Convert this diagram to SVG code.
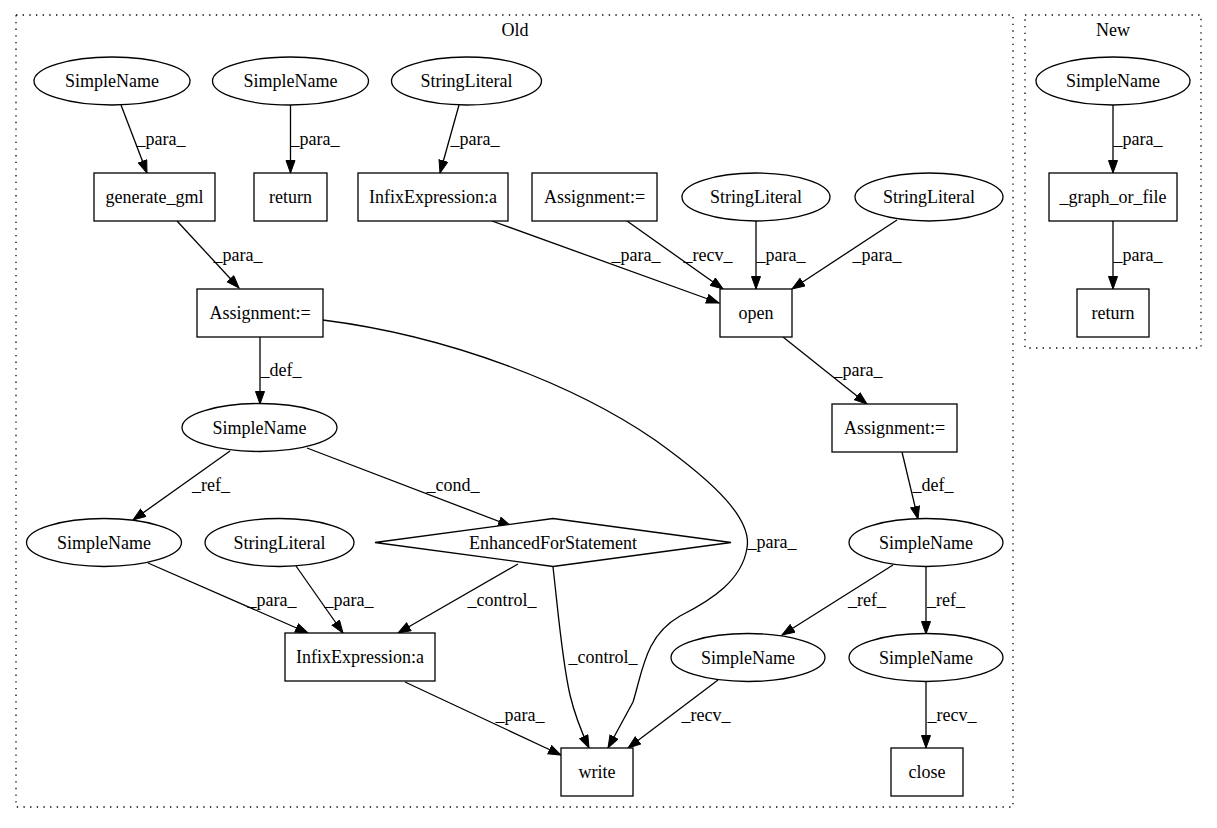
<svg xmlns="http://www.w3.org/2000/svg" width="1217" height="828" viewBox="0 0 1217 828" font-family="'Liberation Serif','Times New Roman',serif">
<style>
text{font-family:"Liberation Serif","Times New Roman",serif;font-size:18px;fill:#000;text-anchor:middle}
.n{fill:#fff;stroke:#000;stroke-width:1.3}
.e{fill:none;stroke:#000;stroke-width:1.3}
.c{fill:none;stroke:#000;stroke-width:1.3;stroke-dasharray:1.33,5.33}
</style>
<defs>
<marker id="a" markerUnits="userSpaceOnUse" markerWidth="15" markerHeight="12" refX="13" refY="5" orient="auto">
<path d="M0.5,0.5 L13,5 L0.5,9.5 z" fill="#000" stroke="#000" stroke-width="1"/>
</marker>
</defs>
<rect width="1217" height="828" fill="#fff"/>
<g id="cluster_old">
<rect class="c" x="16" y="15" width="997" height="792"/>
<text x="515" y="36">Old</text>
</g>
<g id="cluster_new">
<rect class="c" x="1025" y="15" width="176" height="333"/>
<text x="1113" y="36">New</text>
</g>
<g id="edges" marker-end="url(#a)">
<path class="e" d="M121,105 L147,173"/>
<path class="e" d="M290.5,105 L290.5,173"/>
<path class="e" d="M459,105 L440,173"/>
<path class="e" d="M177,221 L239,288"/>
<path class="e" d="M492,221 L719,303"/>
<path class="e" d="M627,221 L723,289"/>
<path class="e" d="M756,220 L756,289"/>
<path class="e" d="M897,220 L792,289"/>
<path class="e" d="M783,337 L867,404"/>
<path class="e" d="M260,337 L260,404"/>
<path class="e" d="M902,452 L918,519"/>
<path class="e" d="M230,451 L133,520"/>
<path class="e" d="M307,448 L511,526"/>
<path class="e" d="M148,563 L308,633"/>
<path class="e" d="M296,566 L343,633"/>
<path class="e" d="M518,564 L398,633"/>
<path class="e" d="M893,565 L782,635"/>
<path class="e" d="M926,566 L926,634"/>
<path class="e" d="M405,682 L561,755"/>
<path class="e" d="M718,680 L628,748"/>
<path class="e" d="M926,681 L926,748"/>
<path class="e" d="M553,567 C558,610 562,660 570,695 C576,720 583,735 589,748"/>
<path class="e" d="M322.7,320 C450,336 575,385 655,440 C718,485 752,520 747,548 C742,580 712,600 680,616 C645,636 643,670 633,702 L608,748"/>
<path class="e" d="M1113,105 L1113,173"/>
<path class="e" d="M1113,221 L1113,289"/>
</g>
<g id="edge_labels">
<text x="161" y="145">_para_</text>
<text x="315" y="145">_para_</text>
<text x="475" y="145">_para_</text>
<text x="238" y="261">_para_</text>
<text x="636" y="261">_para_</text>
<text x="708" y="261">_recv_</text>
<text x="781" y="261">_para_</text>
<text x="877" y="261">_para_</text>
<text x="281" y="376">_def_</text>
<text x="858" y="376">_para_</text>
<text x="211" y="491">_ref_</text>
<text x="453" y="491">_cond_</text>
<text x="933" y="491">_def_</text>
<text x="772" y="548">_para_</text>
<text x="272" y="606">_para_</text>
<text x="349" y="606">_para_</text>
<text x="502" y="606">_control_</text>
<text x="867" y="606">_ref_</text>
<text x="946" y="606">_ref_</text>
<text x="603" y="663">_control_</text>
<text x="520" y="721">_para_</text>
<text x="706" y="721">_recv_</text>
<text x="952" y="721">_recv_</text>
<text x="1138" y="145">_para_</text>
<text x="1138" y="261">_para_</text>
</g>
<g id="n_sn1"><ellipse class="n" cx="112" cy="81" rx="78" ry="24"/><text x="112" y="87">SimpleName</text></g>
<g id="n_sn2"><ellipse class="n" cx="290.5" cy="81" rx="78" ry="24"/><text x="290.5" y="87">SimpleName</text></g>
<g id="n_sl1"><ellipse class="n" cx="466.5" cy="81" rx="75" ry="24"/><text x="466.5" y="87">StringLiteral</text></g>
<g id="n_gen"><rect class="n" x="94" y="173" width="121" height="48"/><text x="154.5" y="203">generate_gml</text></g>
<g id="n_ret1"><rect class="n" x="254" y="173" width="73" height="48"/><text x="290.5" y="203">return</text></g>
<g id="n_infix1"><rect class="n" x="358" y="173" width="150" height="48"/><text x="433" y="203">InfixExpression:a</text></g>
<g id="n_asg1"><rect class="n" x="532" y="173" width="125" height="48"/><text x="594.5" y="203">Assignment:=</text></g>
<g id="n_sl2"><ellipse class="n" cx="756" cy="197" rx="74" ry="24"/><text x="756" y="203">StringLiteral</text></g>
<g id="n_sl3"><ellipse class="n" cx="929" cy="197" rx="74" ry="24"/><text x="929" y="203">StringLiteral</text></g>
<g id="n_asg2"><rect class="n" x="197" y="289" width="126" height="48"/><text x="260" y="319">Assignment:=</text></g>
<g id="n_open"><rect class="n" x="720" y="289" width="72" height="48"/><text x="756" y="319">open</text></g>
<g id="n_sn3"><ellipse class="n" cx="259.5" cy="427.5" rx="77.5" ry="24"/><text x="259.5" y="433.5">SimpleName</text></g>
<g id="n_asg3"><rect class="n" x="832" y="404" width="125" height="48"/><text x="894.5" y="434">Assignment:=</text></g>
<g id="n_sn4"><ellipse class="n" cx="104" cy="542.5" rx="77.5" ry="24"/><text x="104" y="548.5">SimpleName</text></g>
<g id="n_sl4"><ellipse class="n" cx="279.5" cy="542.5" rx="74.5" ry="24"/><text x="279.5" y="548.5">StringLiteral</text></g>
<g id="n_efs"><polygon class="n" points="553,518.5 731,542.5 553,566.5 375,542.5"/><text x="553" y="548.5">EnhancedForStatement</text></g>
<g id="n_sn5"><ellipse class="n" cx="926" cy="542.5" rx="77" ry="24"/><text x="926" y="548.5">SimpleName</text></g>
<g id="n_infix2"><rect class="n" x="285" y="633" width="150" height="48"/><text x="360" y="663">InfixExpression:a</text></g>
<g id="n_sn6"><ellipse class="n" cx="748" cy="657.5" rx="77" ry="24"/><text x="748" y="663.5">SimpleName</text></g>
<g id="n_sn7"><ellipse class="n" cx="926" cy="657.5" rx="77" ry="24"/><text x="926" y="663.5">SimpleName</text></g>
<g id="n_write"><rect class="n" x="561" y="748" width="72" height="48"/><text x="597" y="778">write</text></g>
<g id="n_close"><rect class="n" x="891" y="748" width="72" height="48"/><text x="927" y="778">close</text></g>
<g id="n_sn8"><ellipse class="n" cx="1113" cy="81" rx="77" ry="24"/><text x="1113" y="87">SimpleName</text></g>
<g id="n_gof"><rect class="n" x="1049" y="173" width="128" height="48"/><text x="1113" y="203">_graph_or_file</text></g>
<g id="n_ret2"><rect class="n" x="1077" y="289" width="72" height="48"/><text x="1113" y="319">return</text></g>
</svg>
